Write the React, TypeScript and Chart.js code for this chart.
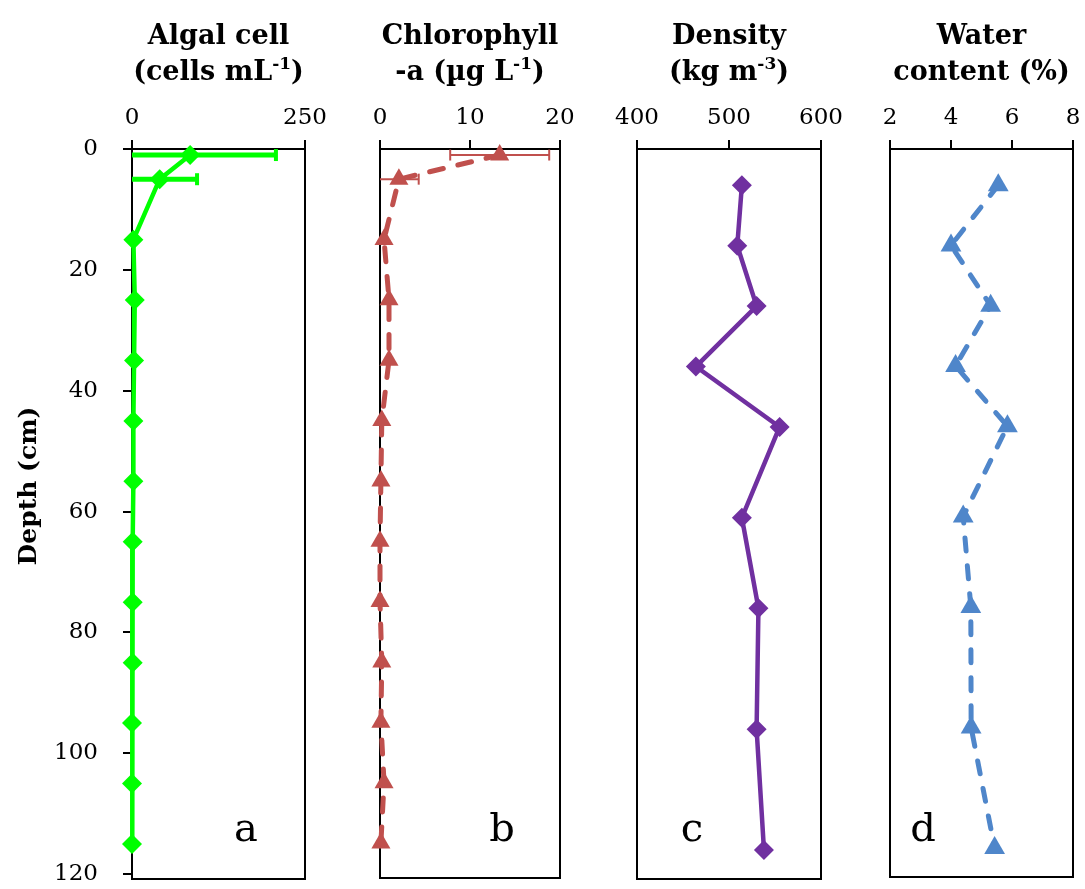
import { useEffect, useRef } from "react";
import { Chart, registerables } from "chart.js";

Chart.register(...registerables);

const W = 1085;
const H = 889;
const PLOT_TOP = 149;
const PLOT_BOTTOM = 884;
const SERIF = '"DejaVu Serif", "Liberation Serif", serif';

// Sampling depths (cm)
const depthsAB = [1, 5, 15, 25, 35, 45, 55, 65, 75, 85, 95, 105, 115];
const depthsCD = [6, 16, 26, 36, 46, 61, 76, 96, 116];

// a: algal cells (cells mL-1) with standard deviation
const algalCells = [84, 40, 2, 4, 3, 2, 2, 1, 1, 1, 0, 0, 0];
const algalErr = [124, 54, null, null, null, null, null, null, null, null, null, null, null];

// b: chlorophyll-a (µg L-1) with standard deviation
const chlorophyll = [13.3, 2.1, 0.45, 1.0, 1.0, 0.2, 0.1, 0, 0, 0.2, 0.1, 0.45, 0.1];
const chlorophyllErr = [5.5, 2.2, null, null, null, null, null, null, null, null, null, null, null];

// c: bulk density (kg m-3)
const density = [514, 509, 530, 464, 555, 514, 532, 530, 538];

// d: water content (%)
const waterContent = [5.55, 4.0, 5.3, 4.15, 5.85, 4.4, 4.65, 4.66, 5.43];

// Axis ticks
const depthTicks = [0, 20, 40, 60, 80, 100, 120];
const algalTicks = [0, 250];
const chlorophyllTicks = [0, 10, 20];
const densityTicks = [400, 500, 600];
const waterTicks = [2, 4, 6, 8];

type Seg = { t: string; sup?: boolean };

interface Panel {
  letter: string;
  letterX: number;
  title: Seg[][];
  ticks: number[];
  left: number;
  right: number;
  depths: number[];
  values: number[];
  errors?: (number | null)[];
  errWidth?: number;
  errCap?: number;
  color: string;
  lineWidth: number;
  dash: number[];
  pointStyle: string;
  pointRadius: number;
  showDepthAxis: boolean;
}

const panels: Panel[] = [
  {
    letter: "a",
    letterX: 246,
    title: [[{ t: "Algal cell" }], [{ t: "(cells mL" }, { t: "-1", sup: true }, { t: ")" }]],
    ticks: algalTicks,
    left: 132,
    right: 305,
    depths: depthsAB,
    values: algalCells,
    errors: algalErr,
    errWidth: 5,
    errCap: 12,
    color: "#00FF00",
    lineWidth: 4.5,
    dash: [],
    pointStyle: "rectRot",
    pointRadius: 10,
    showDepthAxis: true,
  },
  {
    letter: "b",
    letterX: 502,
    title: [[{ t: "Chlorophyll" }], [{ t: "-a (µg L" }, { t: "-1", sup: true }, { t: ")" }]],
    ticks: chlorophyllTicks,
    left: 380,
    right: 560,
    depths: depthsAB,
    values: chlorophyll,
    errors: chlorophyllErr,
    errWidth: 2,
    errCap: 11,
    color: "#C0504D",
    lineWidth: 5,
    dash: [14, 15],
    pointStyle: "triangle",
    pointRadius: 11,
    showDepthAxis: false,
  },
  {
    letter: "c",
    letterX: 692,
    title: [[{ t: "Density" }], [{ t: "(kg m" }, { t: "-3", sup: true }, { t: ")" }]],
    ticks: densityTicks,
    left: 637,
    right: 821,
    depths: depthsCD,
    values: density,
    color: "#7030A0",
    lineWidth: 4.5,
    dash: [],
    pointStyle: "rectRot",
    pointRadius: 10,
    showDepthAxis: false,
  },
  {
    letter: "d",
    letterX: 923,
    title: [[{ t: "Water" }], [{ t: "content (%)" }]],
    ticks: waterTicks,
    left: 890,
    right: 1077,
    depths: depthsCD,
    values: waterContent,
    color: "#4F86CA",
    lineWidth: 5,
    dash: [13, 15],
    pointStyle: "triangle",
    pointRadius: 12,
    showDepthAxis: false,
  },
];

function drawRichLine(ctx: CanvasRenderingContext2D, segs: Seg[], cx: number, y: number, size: number) {
  const normal = `bold ${size}px ${SERIF}`;
  const small = `bold ${Math.round(size * 0.62)}px ${SERIF}`;
  let total = 0;
  const widths = segs.map((s) => {
    ctx.font = s.sup ? small : normal;
    const w = ctx.measureText(s.t).width;
    total += w;
    return w;
  });
  let x = cx - total / 2;
  ctx.textAlign = "left";
  ctx.textBaseline = "middle";
  segs.forEach((s, i) => {
    ctx.font = s.sup ? small : normal;
    ctx.fillText(s.t, x, s.sup ? y - size * 0.33 : y);
    x += widths[i];
  });
}

function makePanelPlugin(p: Panel) {
  return {
    id: "panelDecor" + p.letter,
    beforeDatasetsDraw(chart: any) {
      const { ctx, chartArea } = chart;
      const xs = chart.scales.x;
      const ys = chart.scales.y;
      ctx.save();
      // plot frame
      ctx.strokeStyle = "#000";
      ctx.lineWidth = 2;
      ctx.strokeRect(chartArea.left, chartArea.top, chartArea.right - chartArea.left, chartArea.bottom - chartArea.top);
      // horizontal error bars, cut at the axis minimum
      if (p.errors) {
        ctx.strokeStyle = p.color;
        p.errors.forEach((e, i) => {
          if (e == null) return;
          const v = p.values[i];
          const lo = Math.max(xs.min, v - e);
          const hi = Math.min(xs.max, v + e);
          const y = ys.getPixelForValue(p.depths[i]);
          const x0 = xs.getPixelForValue(lo);
          const x1 = xs.getPixelForValue(hi);
          ctx.lineWidth = p.errWidth || 2;
          ctx.beginPath();
          ctx.moveTo(x0, y);
          ctx.lineTo(x1, y);
          ctx.stroke();
          const cap = (p.errCap || 10) / 2;
          ctx.lineWidth = Math.max(2, (p.errWidth || 2) - 1);
          if (v - e > xs.min) {
            ctx.beginPath();
            ctx.moveTo(x0, y - cap);
            ctx.lineTo(x0, y + cap);
            ctx.stroke();
          }
          if (v + e < xs.max) {
            ctx.beginPath();
            ctx.moveTo(x1, y - cap);
            ctx.lineTo(x1, y + cap);
            ctx.stroke();
          }
        });
      }
      ctx.restore();
    },
    afterDraw(chart: any) {
      const { ctx, chartArea } = chart;
      ctx.save();
      ctx.fillStyle = "#000";
      const cx = (chartArea.left + chartArea.right) / 2;
      drawRichLine(ctx, p.title[0], cx, 37, 27);
      drawRichLine(ctx, p.title[1], cx, 73, 27);
      // panel letter
      ctx.font = `40px ${SERIF}`;
      ctx.textAlign = "center";
      ctx.textBaseline = "alphabetic";
      ctx.fillText(p.letter, p.letterX, 841);
      // depth axis title
      if (p.showDepthAxis) {
        ctx.translate(29, 486);
        ctx.rotate(-Math.PI / 2);
        ctx.font = `bold 25px ${SERIF}`;
        ctx.textAlign = "center";
        ctx.textBaseline = "middle";
        ctx.fillText("Depth (cm)", 0, 0);
      }
      ctx.restore();
    },
  };
}

function buildConfig(p: Panel): any {
  const tickFont = { family: SERIF, size: 23 };
  return {
    type: "scatter",
    data: {
      datasets: [
        {
          data: p.depths.map((d, i) => ({ x: p.values[i], y: d })),
          showLine: true,
          borderColor: p.color,
          backgroundColor: p.color,
          borderWidth: p.lineWidth,
          borderDash: p.dash,
          borderCapStyle: p.dash.length ? "round" : "butt",
          pointStyle: p.pointStyle,
          pointRadius: p.pointRadius,
          pointBorderWidth: 0,
          pointBackgroundColor: p.color,
          clip: false,
        },
      ],
    },
    options: {
      animation: false,
      responsive: false,
      devicePixelRatio: 1,
      events: [],
      layout: {
        padding: {
          left: p.showDepthAxis ? 0 : p.left,
          right: W - p.right,
          top: 100,
          bottom: H - PLOT_BOTTOM,
        },
      },
      plugins: { legend: { display: false }, tooltip: { enabled: false }, title: { display: false } },
      scales: {
        x: {
          type: "linear",
          position: "top",
          min: p.ticks[0],
          max: p.ticks[p.ticks.length - 1],
          afterBuildTicks: (s: any) => {
            s.ticks = p.ticks.map((v) => ({ value: v }));
          },
          afterFit: (s: any) => {
            s.height = PLOT_TOP - 100;
            s.paddingLeft = 0;
            s.paddingRight = 0;
          },
          grid: {
            display: true,
            drawOnChartArea: false,
            drawTicks: true,
            tickLength: 9,
            color: "#000",
            lineWidth: 2,
          },
          border: { display: true, color: "#000", width: 2 },
          ticks: { color: "#000", font: tickFont, padding: 8, maxRotation: 0, autoSkip: false },
        },
        y: {
          type: "linear",
          display: p.showDepthAxis,
          reverse: true,
          min: 0,
          max: 120.8,
          afterBuildTicks: (s: any) => {
            s.ticks = depthTicks.map((v) => ({ value: v }));
          },
          afterFit: (s: any) => {
            s.width = p.showDepthAxis ? p.left : 0;
            s.paddingTop = 0;
            s.paddingBottom = 0;
          },
          grid: {
            display: true,
            drawOnChartArea: false,
            drawTicks: true,
            tickLength: 9,
            color: "#000",
            lineWidth: 2,
          },
          border: { display: true, color: "#000", width: 2 },
          ticks: { color: "#000", font: tickFont, padding: 25, autoSkip: false },
        },
      },
    },
    plugins: [makePanelPlugin(p)],
  };
}

function PanelCanvas({ p }: { p: Panel }) {
  const ref = useRef<HTMLCanvasElement>(null);
  useEffect(() => {
    if (!ref.current) return;
    const chart = new Chart(ref.current, buildConfig(p));
    return () => chart.destroy();
  }, [p]);
  return (
    <canvas
      ref={ref}
      width={W}
      height={H}
      style={{ position: "absolute", left: 0, top: 0, width: W, height: H }}
    />
  );
}

export default function App() {
  return (
    <div style={{ position: "fixed", left: 0, top: 0, width: W, height: H, background: "#fff" }}>
      {panels.map((p) => (
        <PanelCanvas key={p.letter} p={p} />
      ))}
    </div>
  );
}
